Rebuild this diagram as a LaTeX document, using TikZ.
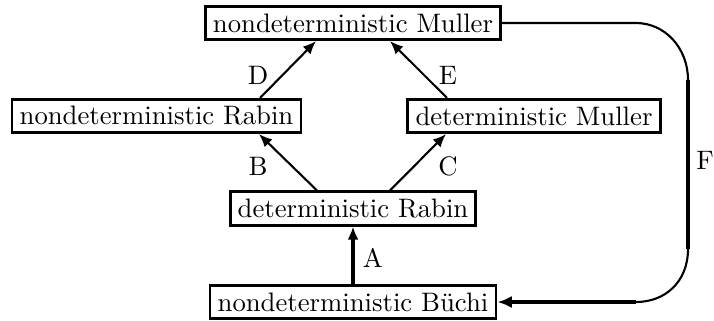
\documentclass[tikz,border=0pt]{standalone}
\usetikzlibrary{calc,arrows.meta}
\begin{document}
\begin{tikzpicture}[x=0.38pt,y=-0.38pt,
  font=\fontsize{10.15}{12}\selectfont,
  box/.style={draw,line width=1.1pt,inner xsep=2.9pt,inner ysep=0pt,minimum height=12.6pt},
  arr/.style={line width=0.8pt,-{Latex[length=5pt,width=4.2pt]}},
  thinF/.style={line width=0.8pt},
  thickF/.style={line width=1.5pt},
  lab/.style={inner sep=0pt}]
\useasboundingbox (0,0) rectangle (714,320);
\node[box] (NM) at (353,23) {nondeterministic Muller};
\node[box] (NR) at (156.5,116) {nondeterministic Rabin};
\node[box] (DM) at (534,116) {deterministic Muller};
\node[box] (DR) at (353,208.5) {deterministic Rabin};
\node[box] (NB) at (353,302) {nondeterministic Büchi};
% diagonal arrows
\draw[arr] ($(NR.north)+(103.5,0)$) -- ($(NM.south)+(-37,0)$);
\draw[arr] ($(DM.north)+(-87,0)$) -- ($(NM.south)+(37,0)$);
\draw[arr] ($(DR.north)+(-36,0)$) -- ($(NR.south)+(102.5,0)$);
\draw[arr] ($(DR.north)+(37,0)$) -- ($(DM.south)+(-88,0)$);
\draw[arr,line width=1.2pt] (NB.north) -- (DR.south);
% labels
\node[lab] (lD) at (258,75) {D};
\node[lab] (lE) at (448,75) {E};
\node[lab] (lB) at (258,166) {B};
\node[lab] (lC) at (448,166) {C};
\node[lab] (lA) at (373,258) {A};
\node[lab] (lF) at (705,160) {F};
% F connector
\coordinate (f1) at (636,23);
\coordinate (f2) at (688,80);
\coordinate (f3) at (688,249);
\coordinate (f4) at (636,302);
\draw[thinF] (NM.east) -- (f1) .. controls (665,23) and (688,48) .. (f2);
\draw[thickF] (f2) -- (f3);
\draw[thinF] (f3) .. controls (688,282) and (665,302) .. (f4);
\draw[line width=1.4pt,-{Latex[length=5.5pt,width=4.6pt]}] (f4) -- (NB.east);
\end{tikzpicture}
\end{document}
